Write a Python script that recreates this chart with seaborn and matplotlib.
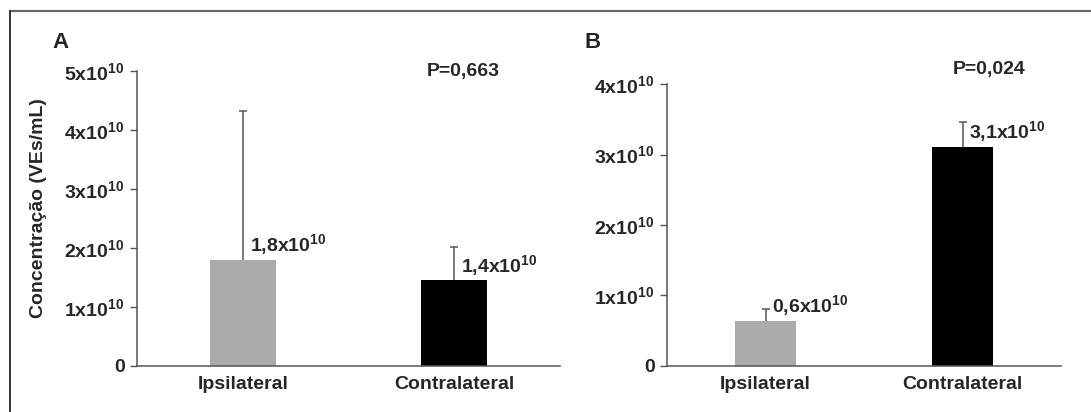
import matplotlib

matplotlib.use("Agg")
import matplotlib.pyplot as plt
from matplotlib.lines import Line2D
import pandas as pd
import seaborn as sns

# data (units of 1e10 VEs/mL)
categories = ["Ipsilateral", "Contralateral"]
bar_colors = ["#ADAAA9", "#000000"]
a_means = [1.80, 1.45]
a_errs = [2.52, 0.56]
a_labels = ["1,8x10$^{10}$", "1,4x10$^{10}$"]
a_pvalue = "P=0,663"
a_yticks = [0, 1, 2, 3, 4, 5]
b_means = [0.64, 3.11]
b_errs = [0.17, 0.35]
b_labels = ["0,6x10$^{10}$", "3,1x10$^{10}$"]
b_pvalue = "P=0,024"
b_yticks = [0, 1, 2, 3, 4]
ylabel = "Concentração (VEs/mL)"

sns.set_style("white")
plt.rcParams["font.family"] = ["Liberation Sans", "DejaVu Sans"]
plt.rcParams["font.weight"] = "bold"
plt.rcParams["mathtext.fontset"] = "custom"
plt.rcParams["mathtext.rm"] = "Liberation Sans:bold"
plt.rcParams["mathtext.it"] = "Liberation Sans:bold"
plt.rcParams["mathtext.bf"] = "Liberation Sans:bold"

FS = 14
AXC = "#555555"


def tick_fmt(v):
    return "0" if v == 0 else f"{v}x10$^{{10}}$"


def draw_panel(ax, means, errs, labels, yticks, pvalue, p_xy, label_dy):
    df = pd.DataFrame({"side": categories, "value": means})
    sns.barplot(data=df, x="side", y="value", hue="side", order=categories,
                palette=bar_colors, width=0.31, legend=False, ax=ax,
                edgecolor="none", linewidth=0)
    centers = [p.get_x() + p.get_width() / 2 for p in ax.patches]
    tops = [m + e for m, e in zip(means, errs)]
    # upper-only error bars, cap on top only
    ax.vlines(centers, means, tops, color=AXC, lw=1.1, zorder=3)
    ax.plot(centers, tops, ls="none", marker="_", ms=6, mew=1.1, color=AXC, zorder=3)
    for cx, m, lab in zip(centers, means, labels):
        ax.annotate(lab, (cx, m), xytext=(5, label_dy), textcoords="offset points",
                    ha="left", va="center", fontsize=FS, fontweight="bold")
    ax.set_xlim(-0.5, len(categories) - 0.5)
    ax.set_ylim(0, yticks[-1])
    ax.set_yticks(yticks)
    ax.set_yticklabels([tick_fmt(v) for v in yticks], fontsize=FS, fontweight="bold")
    ax.set_xticks(range(len(categories)))
    ax.set_xticklabels(categories, fontsize=FS, fontweight="bold")
    ax.set_xticks([0.5, 1.5], minor=True)
    ax.tick_params(axis="x", which="major", length=0, pad=7)
    ax.tick_params(axis="x", which="minor", direction="in", length=5, width=1, color=AXC)
    ax.tick_params(axis="y", direction="out", length=5, width=1, color=AXC, pad=4, left=True)
    ax.set_xlabel("")
    ax.set_ylabel("")
    for side in ("top", "right"):
        ax.spines[side].set_visible(False)
    for side in ("left", "bottom"):
        ax.spines[side].set_color(AXC)
        ax.spines[side].set_linewidth(1.1)
    ax.text(p_xy[0], p_xy[1], pvalue, transform=ax.transAxes, ha="center",
            va="center", fontsize=FS, fontweight="bold")


fig = plt.figure(figsize=(10.91, 4.12), dpi=100)
ax_a = fig.add_axes([0.1256, 0.1117, 0.3877, 0.7160])
ax_b = fig.add_axes([0.6114, 0.1117, 0.3611, 0.6844])

draw_panel(ax_a, a_means, a_errs, a_labels, a_yticks, a_pvalue, (0.771, 0.997), 11)
draw_panel(ax_b, b_means, b_errs, b_labels, b_yticks, b_pvalue, (0.817, 1.05), 11)

fig.text(0.035, 0.495, ylabel, rotation=90, ha="center", va="center",
         fontsize=FS, fontweight="bold")
fig.text(0.055, 0.896, "A", ha="center", va="center", fontsize=16, fontweight="bold")
fig.text(0.5435, 0.896, "B", ha="center", va="center", fontsize=16, fontweight="bold")

# outer frame (top and left edges only)
fig.add_artist(Line2D([0.0092, 1.0], [0.973, 0.973], color="#666666", lw=1.6,
                      transform=fig.transFigure))
fig.add_artist(Line2D([0.0092, 0.0092], [0.0, 0.973], color="#222222", lw=1.3,
                      transform=fig.transFigure))

fig.savefig("out.png", dpi=100)
